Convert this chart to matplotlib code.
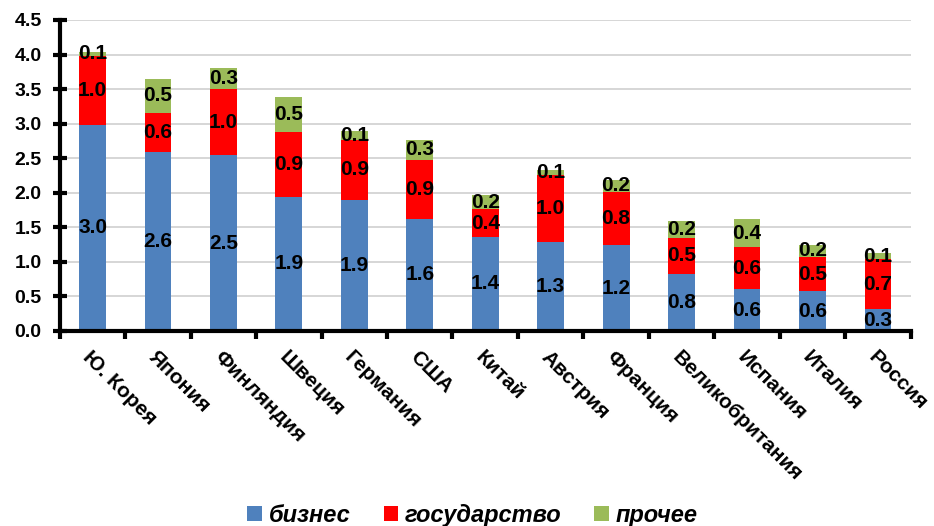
import numpy as np
import matplotlib.pyplot as plt

plt.rcParams['font.family'] = ['Liberation Sans', 'DejaVu Sans']

strany = ['Ю. Корея', 'Япония', 'Финляндия', 'Швеция', 'Германия', 'США', 'Китай',
          'Австрия', 'Франция', 'Великобритания', 'Испания', 'Италия', 'Россия']
biznes = [2.98, 2.59, 2.54, 1.94, 1.90, 1.62, 1.36, 1.28, 1.24, 0.82, 0.60, 0.57, 0.31]
gosudarstvo = [1.00, 0.56, 0.96, 0.94, 0.86, 0.86, 0.40, 0.98, 0.77, 0.53, 0.61, 0.50, 0.73]
prochee = [0.06, 0.50, 0.30, 0.51, 0.13, 0.28, 0.21, 0.07, 0.18, 0.24, 0.41, 0.18, 0.08]

serii = [('бизнес', biznes, '#4F81BD'),
         ('государство', gosudarstvo, '#FF0000'),
         ('прочее', prochee, '#9BBB59')]

fig = plt.figure(figsize=(9.34, 5.26), dpi=100)
ax = fig.add_axes([0.064, 0.371, 0.911, 0.591])

x = np.arange(len(strany))
niz = np.zeros(len(strany))
for name, vals, col in serii:
    vals = np.array(vals)
    ax.bar(x, vals, 0.41, bottom=niz, color=col, label=name, zorder=2)
    for xi, b, v in zip(x, niz, vals):
        ax.text(xi, b + v / 2, f'{v:.1f}', ha='center', va='center',
                fontsize=15, fontweight='bold', color='black', zorder=3)
    niz += vals

ax.set_xlim(-0.5, len(strany) - 0.5)
ax.set_ylim(0, 4.5)
ax.set_yticks(np.arange(0, 4.51, 0.5))
ax.set_yticklabels([f'{v:.1f}' for v in np.arange(0, 4.51, 0.5)],
                   fontsize=14, fontweight='bold')
ax.yaxis.grid(True, color='#D0D0D0', linewidth=1.2, zorder=0)
ax.set_axisbelow(True)

# подписи стран и засечки между столбиками
ax.set_xticks(x)
ax.set_xticklabels(strany, rotation=-45, ha='left', va='top',
                   rotation_mode='anchor', fontsize=15, fontweight='bold')
ax.tick_params(axis='x', length=0, pad=12)
ax.set_xticks(np.arange(-0.5, len(strany), 1), minor=True)
ax.tick_params(axis='x', which='minor', length=6, width=3, direction='out')
ax.tick_params(axis='y', length=10, width=3, direction='inout', pad=8)

for s in ['top', 'right']:
    ax.spines[s].set_visible(False)
for s in ['left', 'bottom']:
    ax.spines[s].set_linewidth(3)

fig.legend(loc='lower center', bbox_to_anchor=(0.506, -0.042), ncol=3, frameon=False,
           prop={'size': 17, 'weight': 'bold', 'style': 'italic'},
           handlelength=0.6, handleheight=0.6, handletextpad=0.3, columnspacing=1.4)

fig.savefig('out.png', dpi=100)
